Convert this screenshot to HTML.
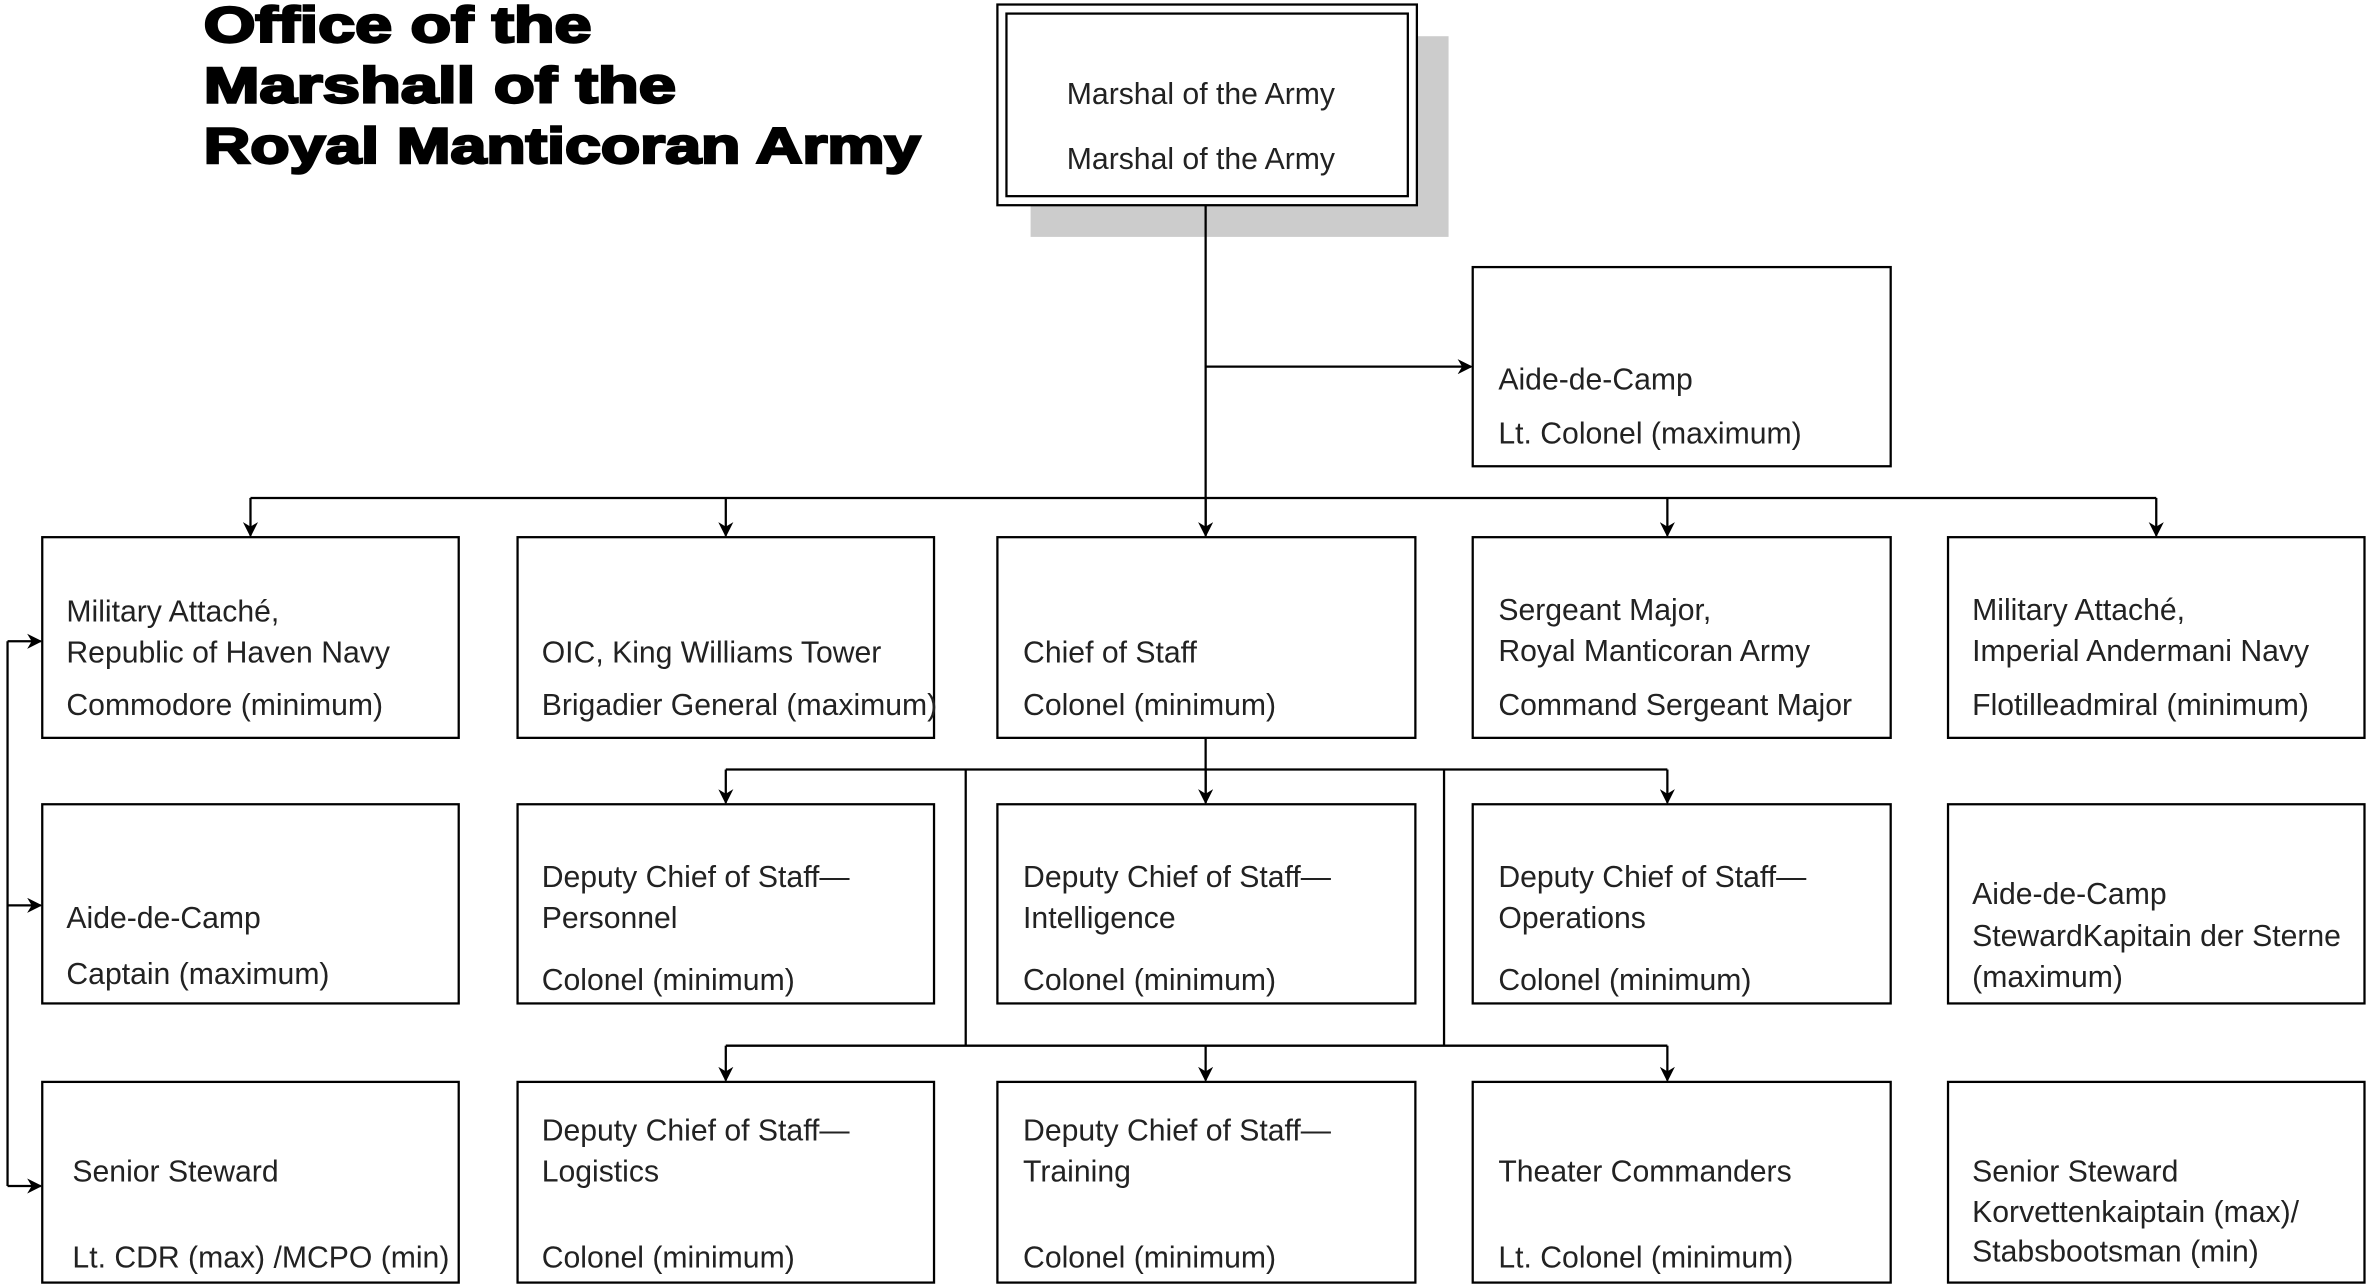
<!DOCTYPE html>
<html><head><meta charset="utf-8"><style>html,body{margin:0;padding:0;background:#fff;}svg{display:block}</style></head>
<body>
<svg width="2366" height="1285" viewBox="0 0 1568 851.6" preserveAspectRatio="none" xmlns="http://www.w3.org/2000/svg">
<defs><marker id="a" markerWidth="10" markerHeight="10" refX="9" refY="5" orient="auto" markerUnits="userSpaceOnUse"><path d="M0,0 L10,5 L0,10 L3,5 Z" fill="#000"/></marker></defs>
<g font-family="Liberation Sans, sans-serif" font-weight="bold" font-size="33" fill="#000" stroke="#000" stroke-width="1.6">
<text x="135" y="28" textLength="257" lengthAdjust="spacingAndGlyphs">Office of the</text>
<text x="135" y="68" textLength="313" lengthAdjust="spacingAndGlyphs">Marshall of the</text>
<text x="135" y="108" textLength="475" lengthAdjust="spacingAndGlyphs">Royal Manticoran Army</text>
</g>
<rect x="683" y="24" width="277" height="133" fill="#cccccc"/>
<rect x="661" y="3" width="278" height="133" fill="#fff" stroke="#000" stroke-width="1.5"/>
<rect x="667" y="9" width="266" height="121" fill="none" stroke="#000" stroke-width="1.5"/>
<g fill="none" stroke="#000" stroke-width="1.5">
<rect x="976" y="177" width="277" height="132"/>
<rect x="28" y="356" width="276" height="133"/><rect x="343" y="356" width="276" height="133"/><rect x="661" y="356" width="277" height="133"/><rect x="976" y="356" width="277" height="133"/><rect x="1291" y="356" width="276" height="133"/>
<rect x="28" y="533" width="276" height="132"/><rect x="343" y="533" width="276" height="132"/><rect x="661" y="533" width="277" height="132"/><rect x="976" y="533" width="277" height="132"/><rect x="1291" y="533" width="276" height="132"/>
<rect x="28" y="717" width="276" height="133"/><rect x="343" y="717" width="276" height="133"/><rect x="661" y="717" width="277" height="133"/><rect x="976" y="717" width="277" height="133"/><rect x="1291" y="717" width="276" height="133"/>
<path d="M799,136 V355 M166,330 H1429 M640,510 V693 M957,510 V693 M481,510 H1105 M481,693 H1105 M5,425 V786 M799,489 V532"/>
</g>
<g fill="none" stroke="#000" stroke-width="1.5" marker-end="url(#a)">
<path d="M799,243 H975"/>
<path d="M166,330 V355"/><path d="M481,330 V355"/><path d="M799,330 V355"/><path d="M1105,330 V355"/><path d="M1429,330 V355"/>
<path d="M481,510 V532"/><path d="M799,510 V532"/><path d="M1105,510 V532"/>
<path d="M481,693 V716"/><path d="M799,693 V716"/><path d="M1105,693 V716"/>
<path d="M5,425 H27"/><path d="M5,600 H27"/><path d="M5,786 H27"/>
</g>
<g font-family="Liberation Sans, sans-serif" font-size="20" fill="#222">
<text x="707" y="69">Marshal of the Army</text><text x="707" y="112">Marshal of the Army</text>
<text x="993" y="258">Aide-de-Camp</text><text x="993" y="294">Lt. Colonel (maximum)</text>
<text x="44" y="412">Military Attaché,</text><text x="44" y="439">Republic of Haven Navy</text><text x="44" y="474">Commodore (minimum)</text>
<text x="359" y="439">OIC, King Williams Tower</text><text x="359" y="474">Brigadier General (maximum)</text>
<text x="678" y="439">Chief of Staff</text><text x="678" y="474">Colonel (minimum)</text>
<text x="993" y="411">Sergeant Major,</text><text x="993" y="438">Royal Manticoran Army</text><text x="993" y="474">Command Sergeant Major</text>
<text x="1307" y="411">Military Attaché,</text><text x="1307" y="438">Imperial Andermani Navy</text><text x="1307" y="474">Flotilleadmiral (minimum)</text>
<text x="44" y="615">Aide-de-Camp</text><text x="44" y="652">Captain (maximum)</text>
<text x="359" y="588">Deputy Chief of Staff—</text><text x="359" y="615">Personnel</text><text x="359" y="656">Colonel (minimum)</text>
<text x="678" y="588">Deputy Chief of Staff—</text><text x="678" y="615">Intelligence</text><text x="678" y="656">Colonel (minimum)</text>
<text x="993" y="588">Deputy Chief of Staff—</text><text x="993" y="615">Operations</text><text x="993" y="656">Colonel (minimum)</text>
<text x="1307" y="599">Aide-de-Camp</text><text x="1307" y="627">StewardKapitain der Sterne</text><text x="1307" y="654">(maximum)</text>
<text x="48" y="783">Senior Steward</text><text x="48" y="840">Lt. CDR (max) /MCPO (min)</text>
<text x="359" y="756">Deputy Chief of Staff—</text><text x="359" y="783">Logistics</text><text x="359" y="840">Colonel (minimum)</text>
<text x="678" y="756">Deputy Chief of Staff—</text><text x="678" y="783">Training</text><text x="678" y="840">Colonel (minimum)</text>
<text x="993" y="783">Theater Commanders</text><text x="993" y="840">Lt. Colonel (minimum)</text>
<text x="1307" y="783">Senior Steward</text><text x="1307" y="810">Korvettenkaiptain (max)/</text><text x="1307" y="836">Stabsbootsman (min)</text>
</g>
</svg>
</body></html>
